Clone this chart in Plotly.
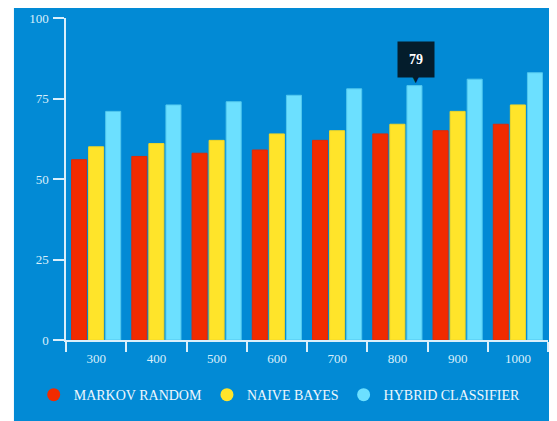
import plotly.graph_objects as go

categories = ["300", "400", "500", "600", "700", "800", "900", "1000"]
markov_random = [56, 57, 58, 59, 62, 64, 65, 67]
naive_bayes = [60, 61, 62, 64, 65, 67, 71, 73]
hybrid_classifier = [71, 73, 74, 76, 78, 79, 81, 83]
series_names = ["MARKOV RANDOM", "NAIVE BAYES", "HYBRID CLASSIFIER"]
y_ticks = [0, 25, 50, 75, 100]
tooltip_category = "800"

colors = ["#f12b00", "#ffe42a", "#6ce0ff"]
line_colors = ["#e02a08", "#f2d826", "#52c8ee"]
BG = "#028ad5"
AXIS = "#d9effb"
FONT = "Liberation Serif"

fig = go.Figure()
for name, vals, c, lc in zip(series_names, [markov_random, naive_bayes, hybrid_classifier], colors, line_colors):
    fig.add_trace(go.Bar(x=categories, y=vals, name=name, marker=dict(color=c, line=dict(color=lc, width=1)),
                         showlegend=False, offsetgroup=name))
for name, c in zip(series_names, colors):
    fig.add_trace(go.Scatter(x=[categories[0]], y=[None], mode="markers", name=name,
                             marker=dict(symbol="circle", size=13, color=c)))

ti = categories.index(tooltip_category)
tv = hybrid_classifier[ti]
fig.add_annotation(x=ti, y=tv, xref="x", yref="y", text="<b>%d</b>" % tv,
                   showarrow=False, xshift=19, yshift=26, width=36, height=35, bgcolor="#041d2c",
                   borderpad=0, font=dict(family=FONT, size=14, color="#ffffff"))
fig.add_annotation(x=ti, y=tv, xref="x", yref="y", text="▼",
                   showarrow=False, xshift=19, yshift=7, font=dict(family="DejaVu Sans", size=10, color="#041d2c"))

fig.add_shape(type="rect", xref="paper", yref="paper", x0=-0.108, x1=1.05, y0=-0.3, y1=1.1,
              fillcolor=BG, line=dict(width=0), layer="below")

fig.update_layout(
    width=549, height=413,
    margin=dict(l=58, r=9, t=10, b=81),
    paper_bgcolor="#ffffff", plot_bgcolor=BG,
    barmode="group", bargap=0.15, bargroupgap=0.12,
    font=dict(family=FONT, color=AXIS),
    legend=dict(orientation="h", x=-0.067, xanchor="left", y=-0.171, yanchor="middle",
                font=dict(family=FONT, size=14, color="#eef8fe"), bgcolor="rgba(0,0,0,0)"),
    xaxis=dict(type="category", categoryorder="array", categoryarray=categories, range=[-0.5, 7.5],
               showline=True, linecolor=AXIS, linewidth=1.5, ticks="outside",
               tickson="boundaries", ticklen=10, tickcolor=AXIS, tickwidth=1.5, showgrid=False,
               ticklabelstandoff=6,
               tickfont=dict(family=FONT, size=13, color=AXIS), automargin=False),
    yaxis=dict(range=[0, 100], tickvals=y_ticks, showline=True, linecolor=AXIS, linewidth=1.5,
               ticks="outside", ticklen=11, tickcolor=AXIS, tickwidth=1.5, showgrid=False, zeroline=False,
               ticklabelstandoff=2, tickfont=dict(family=FONT, size=13, color=AXIS), automargin=False),
)

fig.write_html("out.html")
